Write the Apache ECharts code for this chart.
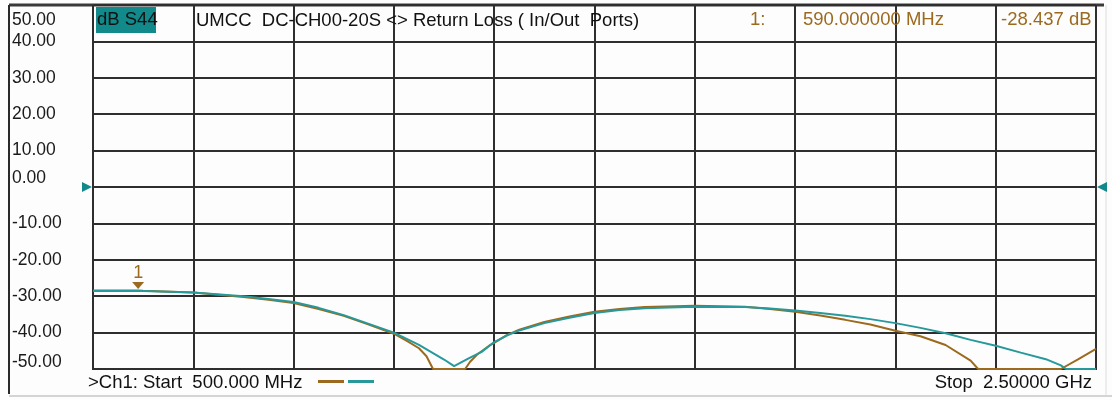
<!DOCTYPE html>
<html>
<head>
<meta charset="utf-8">
<title>S44 Return Loss</title>
<script src="https://cdn.jsdelivr.net/npm/echarts@6/dist/echarts.min.js"></script>
<style>
    html, body { margin: 0; padding: 0; background: #fdfdfd; }
    #chart { width: 1112px; height: 400px; }
</style>
</head>
<body>
<div id="chart"></div>
<script>
// 频率 (MHz) / 回波损耗 (dB)
var tealFreq = [500, 600, 700, 800, 850, 900, 950, 1000, 1050, 1100, 1150, 1200, 1220, 1250, 1275, 1300, 1325, 1350, 1400, 1450, 1500, 1550, 1600, 1700, 1800, 1850, 1900, 1950, 2000, 2050, 2100, 2150, 2200, 2250, 2300, 2350, 2400, 2430, 2440, 2500];
var tealDb = [-28.6, -28.6, -29.0, -30.0, -30.8, -31.6, -33.2, -35.2, -37.6, -40.0, -43.4, -47.4, -49.2, -47.0, -45.3, -42.6, -40.8, -39.4, -37.4, -35.9, -34.6, -33.8, -33.3, -32.9, -33.0, -33.4, -33.9, -34.6, -35.4, -36.3, -37.4, -38.7, -40.2, -42.0, -43.6, -45.5, -47.3, -49.0, -50, -50];
var brownFreq = [500, 590, 600, 700, 800, 850, 900, 950, 1000, 1050, 1100, 1125, 1150, 1165, 1178, 1242, 1252, 1266, 1290, 1300, 1325, 1350, 1400, 1450, 1500, 1550, 1600, 1700, 1800, 1850, 1900, 1950, 2000, 2050, 2100, 2150, 2200, 2250, 2265, 2430, 2465, 2500];
var brownDb = [-28.4, -28.437, -28.5, -29.0, -30.2, -31.0, -31.9, -33.5, -35.4, -37.8, -40.3, -42.2, -44.3, -46.5, -50, -50, -48.0, -46.0, -43.6, -42.8, -40.7, -39.2, -37.1, -35.6, -34.3, -33.5, -33.0, -32.6, -32.9, -33.5, -34.3, -35.3, -36.5, -37.8, -39.5, -41.0, -43.4, -47.7, -50, -50, -47.3, -44.5];
var yTicks = [50, 40, 30, 20, 10, 0, -10, -20, -30, -40, -50];
var marker = { name: '1', freq: 590, db: -28.437 };

var BROWN = '#9c6a1e', TEAL = '#27999a', FONT = 'Liberation Sans';

var s44Chart = {
    init: function () {
        var myChart = echarts.init(document.getElementById('chart'));
        myChart.setOption(s44Chart.buildOption());
    },
    pairs: function (xs, ys) {
        var out = [];
        for (var i = 0; i < xs.length; i++) out.push([xs[i], ys[i]]);
        return out;
    },
    //Y轴标签，上下几个位置稍有偏移
    yLabel: function (v) {
        var txt = v.toFixed(2);
        if (yTicks.indexOf(v) < 0) return '';
        if (v === 50) return '{a|' + txt + '}';
        if (v === 0) return '{z|' + txt + '}';
        if (v === -50) return '{b|' + txt + '}';
        return txt;
    },
    text: function (x, y, str, color, align) {
        return {
            type: 'text', x: x, y: y, z: 10,
            style: { text: str, fill: color || '#111', font: '18.5px "' + FONT + '"', align: align || 'left', verticalAlign: 'middle' }
        };
    },
    buildOption: function () {
        return {
            backgroundColor: '#fdfdfd',
            animation: false,
            textStyle: { fontFamily: FONT },
            grid: { left: 93, right: 16, top: 5, bottom: 31, show: true, borderColor: '#2e2e2e', borderWidth: 2 },
            legend: {
                left: 313, top: 375, itemWidth: 26, itemHeight: 3, itemGap: 4, icon: 'rect',
                formatter: function () { return ''; },
                data: ['S44 b', 'S44 a'], selectedMode: false
            },
            xAxis: {
                type: 'value', min: 500, max: 2500, interval: 200,
                axisLine: { show: false }, axisTick: { show: false }, axisLabel: { show: false },
                splitLine: { lineStyle: { color: '#2e2e2e', width: 2 } }
            },
            yAxis: {
                type: 'value', min: -50, max: 50, interval: 10,
                axisLine: { show: false }, axisTick: { show: false },
                axisLabel: {
                    align: 'left', margin: 81, color: '#1a1a1a', fontSize: 17.5, fontFamily: FONT,
                    formatter: s44Chart.yLabel,
                    rich: {
                        a: { fontSize: 17.5, fontFamily: FONT, color: '#1a1a1a', padding: [30, 0, 0, 0] },
                        z: { fontSize: 17.5, fontFamily: FONT, color: '#1a1a1a', padding: [0, 0, 18, 0] },
                        b: { fontSize: 17.5, fontFamily: FONT, color: '#1a1a1a', padding: [0, 0, 14, 0] }
                    }
                },
                splitLine: { lineStyle: { color: '#2e2e2e', width: 2 } }
            },
            series: [
                {
                    name: 'S44 b', type: 'line', showSymbol: false, color: BROWN,
                    lineStyle: { width: 2, color: BROWN },
                    data: s44Chart.pairs(brownFreq, brownDb),
                    markPoint: {
                        symbol: 'triangle', symbolSize: [12, 7], symbolRotate: 180, symbolOffset: [0, -5],
                        itemStyle: { color: BROWN },
                        label: { show: true, position: 'top', distance: 0, color: BROWN, fontSize: 18, fontFamily: FONT, formatter: marker.name },
                        data: [{ coord: [marker.freq, marker.db] }]
                    }
                },
                {
                    name: 'S44 a', type: 'line', showSymbol: false, color: TEAL,
                    lineStyle: { width: 2, color: TEAL },
                    data: s44Chart.pairs(tealFreq, tealDb),
                    //参考电平标记
                    markPoint: {
                        symbol: 'triangle', symbolSize: [10, 10],
                        itemStyle: { color: '#11898a' },
                        label: { show: false },
                        data: [
                            { coord: [500, 0], symbolRotate: -90, symbolOffset: [-6, 0] },
                            { coord: [2500, 0], symbolRotate: 90, symbolOffset: [6, 0] }
                        ]
                    }
                }
            ],
            graphic: [
                //外框
                { type: 'line', shape: { x1: 9, y1: 5, x2: 1104, y2: 5 }, style: { stroke: '#3a3a3a', lineWidth: 3 } },
                { type: 'line', shape: { x1: 9, y1: 5, x2: 9, y2: 394 }, style: { stroke: '#2a2a2a', lineWidth: 2 } },
                { type: 'line', shape: { x1: 9, y1: 396, x2: 1112, y2: 396 }, style: { stroke: '#d4d4d4', lineWidth: 2 } },
                { type: 'line', shape: { x1: 1106, y1: 5, x2: 1106, y2: 396 }, style: { stroke: '#dcdcdc', lineWidth: 1 } },
                //标题栏
                { type: 'rect', shape: { x: 96, y: 7, width: 60, height: 26 }, style: { fill: '#12898a' }, z: 9 },
                s44Chart.text(97, 20, 'dB S44'),
                s44Chart.text(196, 21, 'UMCC  DC-CH00-20S <> Return Loss ( In/Out  Ports)'),
                s44Chart.text(750, 20, '1:', BROWN),
                s44Chart.text(803, 20, '590.000000 MHz', BROWN),
                s44Chart.text(1001, 20, '-28.437 dB', BROWN),
                //底部说明
                s44Chart.text(88, 383, '>Ch1: Start  500.000 MHz'),
                s44Chart.text(1092, 383, 'Stop  2.50000 GHz', '#111', 'right')
            ]
        };
    }
};

s44Chart.init();
</script>
</body>
</html>
